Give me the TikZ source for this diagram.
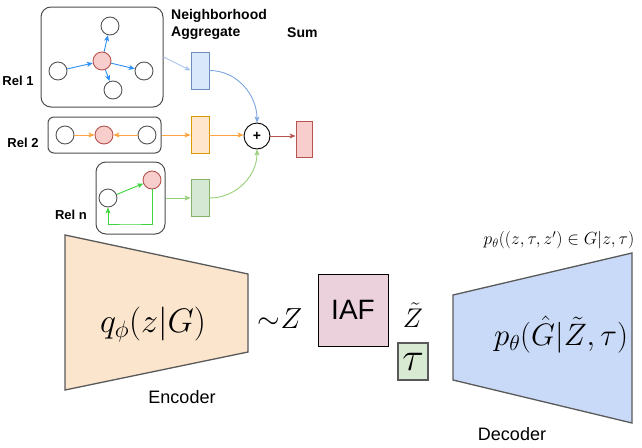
\RequirePackage{fix-cm}
\documentclass[tikz,border=0pt]{standalone}
\usepackage{fontspec}
\newfontfamily\arial{Liberation Sans}
\usetikzlibrary{arrows.meta}
\definecolor{boxc}{HTML}{4D4D4D}
\definecolor{gnodec}{HTML}{555555}
\definecolor{redf}{HTML}{F8CECC}
\definecolor{redd}{HTML}{B85450}
\definecolor{bluef}{HTML}{DAE8FC}
\definecolor{blued}{HTML}{6C8EBF}
\definecolor{orangef}{HTML}{FFE6CC}
\definecolor{oranged}{HTML}{D79B00}
\definecolor{greenf}{HTML}{D5E8D4}
\definecolor{greend}{HTML}{82B366}
\definecolor{barrow}{HTML}{2E8FF5}
\definecolor{oarrow}{HTML}{FFA33D}
\definecolor{garrow}{HTML}{3FD43F}
\definecolor{bconn}{HTML}{7EA6E0}
\definecolor{bconnl}{HTML}{A9C4EB}
\definecolor{gconn}{HTML}{97D077}
\definecolor{encf}{HTML}{FCE5CD}
\definecolor{decf}{HTML}{C9DAF8}
\definecolor{iaff}{HTML}{EAD1DC}
\definecolor{tauf}{HTML}{D9EAD3}
\definecolor{trapd}{HTML}{595959}
\begin{document}
\begin{tikzpicture}[x=1pt,y=-1pt,
  arr/.style={-{Stealth[length=6pt,width=5pt,inset=1.5pt]}},
  gnode/.style={circle,draw=gnodec,fill=white,minimum size=18pt,inner sep=0pt,line width=0.9pt},
  rnode/.style={gnode,fill=redf,draw=redd},
  relbox/.style={draw=boxc,rounded corners=10pt,line width=1pt,minimum width=#1},
  aggbox/.style={rectangle,minimum width=18pt,minimum height=37pt,inner sep=0pt,line width=0.9pt},
  lbl/.style={font=\arial\bfseries\fontsize{13}{15}\selectfont,inner sep=0pt},
  hdr/.style={font=\arial\bfseries\fontsize{14}{17}\selectfont,inner sep=0pt,anchor=west},
  captxt/.style={font=\arial\fontsize{18}{21}\selectfont,inner sep=0pt},
  trap/.style={draw=trapd,line width=1.3pt,line join=miter}
]
\useasboundingbox (0,0) rectangle (642,447);

% ---- Rel 1 ----
\node[relbox=122pt,minimum height=100pt] (rel1) at (102,57) {};
\node[rnode] (c1) at (102,61) {};
\node[gnode] (t1) at (110,26) {};
\node[gnode] (l1) at (58,71) {};
\node[gnode] (r1) at (144,71) {};
\node[gnode] (b1) at (113,90) {};
\draw[barrow,line width=0.9pt,arr] (l1) -- (c1);
\draw[barrow,line width=0.9pt,arr] (c1) -- (t1);
\draw[barrow,line width=0.9pt,arr] (c1) -- (r1);
\draw[barrow,line width=0.9pt,arr] (c1) -- (b1);
\node[lbl] (lab1) at (18,81) {Rel 1};

% ---- Rel 2 ----
\node[draw=boxc,rounded corners=6pt,line width=1pt,minimum width=113pt,minimum height=36pt] (rel2) at (104.5,135) {};
\node[gnode] (l2) at (65,135) {};
\node[rnode] (c2) at (104,135) {};
\node[gnode] (r2) at (147,135) {};
\draw[oarrow,line width=0.9pt,arr] (l2) -- (c2);
\draw[oarrow,line width=0.9pt,arr] (r2) -- (c2);
\node[lbl] (lab2) at (23,143) {Rel 2};

% ---- Rel n ----
\node[relbox=69pt,minimum height=72pt] (reln) at (130.5,198) {};
\node[gnode] (wn) at (108,198) {};
\node[rnode] (rn) at (152,180) {};
\draw[garrow,line width=0.9pt,arr] (wn) -- (rn);
\coordinate (loopc) at (130,224);
\draw[garrow,line width=0.9pt,arr] (rn.south) |- (loopc) -| (wn.south);
\node[lbl] (labn) at (71,215) {Rel n};

% ---- aggregates ----
\node[aggbox,fill=bluef,draw=blued] (agg1) at (200,70.5) {};
\node[aggbox,fill=orangef,draw=oranged] (agg2) at (200,135) {};
\node[aggbox,fill=greenf,draw=greend] (agg3) at (200,198) {};
\node[circle,draw=black,fill=white,minimum size=26pt,inner sep=0pt,line width=0.9pt,font=\arial\bfseries\fontsize{14}{14}\selectfont] (sum) at (257,136) {+};
\node[rectangle,minimum width=16pt,minimum height=36pt,inner sep=0pt,fill=redf,draw=redd,line width=0.9pt] (out) at (304,139) {};

\draw[bconnl,line width=0.9pt,arr] (rel1.east) -- (agg1.west);
\draw[bconn,line width=0.9pt,arr] (agg1.east) to[out=0,in=90] (sum.north);
\draw[oarrow,line width=0.9pt,arr] (rel2.east) -- (agg2.west);
\draw[oarrow,line width=0.9pt,arr] (agg2.east) -- (agg2.east -| sum.west);
\draw[gconn,line width=0.9pt,arr] (reln.east) -- (agg3.west);
\draw[gconn,line width=0.9pt,arr] (agg3.east) to[out=0,in=-90] (sum.south);
\draw[redd,line width=0.9pt,arr] (sum.east) -- (sum.east -| out.west);

\node[hdr] (hdr1) at (171,16) {Neighborhood};
\node[hdr] (hdr2) at (171,33) {Aggregate};
\node[hdr] (hdr3) at (287,33) {Sum};

% ---- encoder ----
\draw[trap,fill=encf] (65,235) -- (248,274) -- (248,352) -- (65,390) -- cycle;
\node[inner sep=0pt,font=\fontsize{34}{40}\selectfont] (qtext) at (153,325) {$q_\phi(z|G)$};
\node[captxt] (enc) at (182,397) {Encoder};

\node[inner sep=0pt,anchor=base,font=\fontsize{29}{32}\selectfont] (simz) at (280,328) {${\sim}Z$};
\node[rectangle,minimum width=70pt,minimum height=72pt,inner sep=0pt,fill=iaff,draw=black,line width=1pt,font=\arial\fontsize{28}{32}\selectfont] (iaf) at (353,310) {IAF};
\node[inner sep=0pt,anchor=base,font=\fontsize{27}{30}\selectfont] (zt) at (413,327) {$\tilde{Z}$};
\node[rectangle,minimum width=30pt,minimum height=37pt,inner sep=0pt,fill=tauf,draw=trapd,line width=1.2pt,font=\fontsize{40}{40}\selectfont] (tau) at (413,361.5) {$\tau$};

% ---- decoder ----
\draw[trap,fill=decf] (453,295) -- (632,253) -- (632,423) -- (453,380) -- cycle;
\node[inner sep=0pt,font=\fontsize{31}{38}\selectfont] (ptext) at (561,335) {$p_\theta(\hat{G}|\tilde{Z},\tau)$};
\node[inner sep=0pt,font=\fontsize{17.5}{22}\selectfont] (ptop) at (559,240) {$p_\theta((z,\tau,z')\in G|z,\tau)$};
\node[captxt] (dec) at (512,434) {Decoder};
\end{tikzpicture}
\end{document}
